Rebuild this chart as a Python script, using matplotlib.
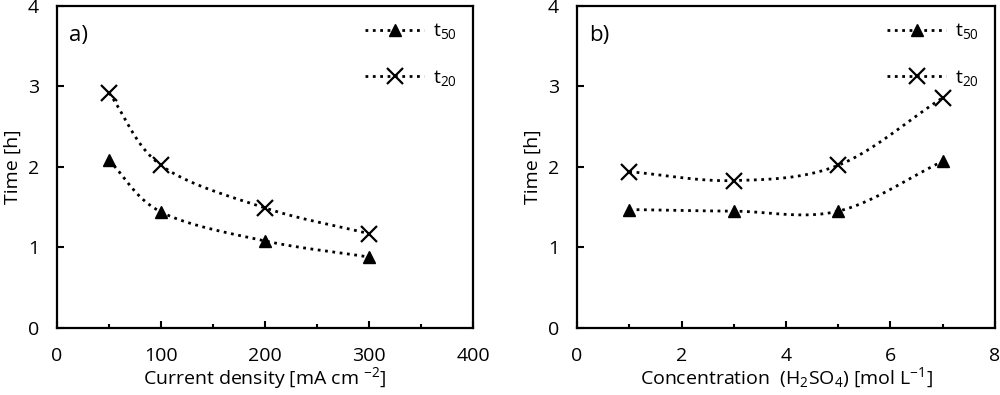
import matplotlib.pyplot as plt
import numpy as np

plt.rcParams['font.family'] = ['Open Sans', 'DejaVu Sans']
plt.rcParams['mathtext.fontset'] = 'custom'
plt.rcParams['mathtext.rm'] = 'Open Sans'
plt.rcParams['mathtext.it'] = 'Open Sans'

# panel a) data
current_density = [50, 100, 200, 300]
t50_current = [2.08, 1.44, 1.08, 0.88]
t20_current = [2.92, 2.02, 1.49, 1.17]

# panel b) data
concentration = [1, 3, 5, 7]
t50_conc = [1.47, 1.45, 1.45, 2.07]
t20_conc = [1.94, 1.83, 2.02, 2.86]


def smooth(x, y, n=30):
    # Catmull-Rom curve through the points (like Excel's smoothed line)
    x = np.asarray(x, float)
    y = np.asarray(y, float)
    px = np.concatenate([[2 * x[0] - x[1]], x, [2 * x[-1] - x[-2]]])
    py = np.concatenate([[2 * y[0] - y[1]], y, [2 * y[-1] - y[-2]]])
    xs, ys = [], []
    t = np.linspace(0, 1, n)
    for i in range(1, len(px) - 2):
        for p, out in ((px, xs), (py, ys)):
            p0, p1, p2, p3 = p[i - 1], p[i], p[i + 1], p[i + 2]
            out.extend(0.5 * (2 * p1 + (-p0 + p2) * t
                              + (2 * p0 - 5 * p1 + 4 * p2 - p3) * t ** 2
                              + (-p0 + 3 * p1 - 3 * p2 + p3) * t ** 3))
    return np.array(xs), np.array(ys)


fig = plt.figure(figsize=(10, 3.95), dpi=100)
ax1 = fig.add_axes([0.057, 0.170, 0.416, 0.815])
ax2 = fig.add_axes([0.577, 0.170, 0.418, 0.815])


def draw(ax, x, a, b):
    sx, sy = smooth(x, a)
    ax.plot(sx, sy, ':', color='black', lw=2)
    ax.plot(x, a, '^', color='black', ms=9)
    sx, sy = smooth(x, b)
    ax.plot(sx, sy, ':', color='black', lw=2)
    ax.plot(x, b, 'x', color='black', ms=11, mew=1.6)
    # legend handles
    ax.plot([], [], ':^', color='black', lw=2, ms=9, label='t$_{50}$')
    ax.plot([], [], ':x', color='black', lw=2, ms=11, mew=1.6, label='t$_{20}$')
    ax.legend(loc='upper right', frameon=False, fontsize=14, handlelength=3.0,
              labelspacing=1.35, handletextpad=0.5, borderaxespad=0.4)
    ax.set_ylim(0, 4)
    ax.set_yticks([0, 1, 2, 3, 4])
    ax.set_ylabel('Time [h]', fontsize=14, labelpad=4)
    ax.tick_params(direction='in', labelsize=14, width=1.5, length=5)
    ax.tick_params(which='minor', direction='in', width=1.5, length=3)
    ax.tick_params(axis='x', pad=14)
    ax.tick_params(axis='y', pad=13)
    for s in ax.spines.values():
        s.set_linewidth(1.6)


draw(ax1, current_density, t50_current, t20_current)
ax1.set_xlim(0, 400)
ax1.set_xticks([0, 100, 200, 300, 400])
ax1.set_xticks([50, 150, 250, 350], minor=True)
ax1.set_xlabel('Current density [mA cm $^{-2}$]', fontsize=14, labelpad=0)
ax1.text(0.03, 0.89, 'a)', transform=ax1.transAxes, fontsize=16)

draw(ax2, concentration, t50_conc, t20_conc)
ax2.set_xlim(0, 8)
ax2.set_xticks([0, 2, 4, 6, 8])
ax2.set_xticks([1, 3, 5, 7], minor=True)
ax2.set_xlabel('Concentration  (H$_2$SO$_4$) [mol L$^{-1}$]', fontsize=14, labelpad=0)
ax2.text(0.03, 0.89, 'b)', transform=ax2.transAxes, fontsize=16)

fig.savefig('out.png', dpi=100)
